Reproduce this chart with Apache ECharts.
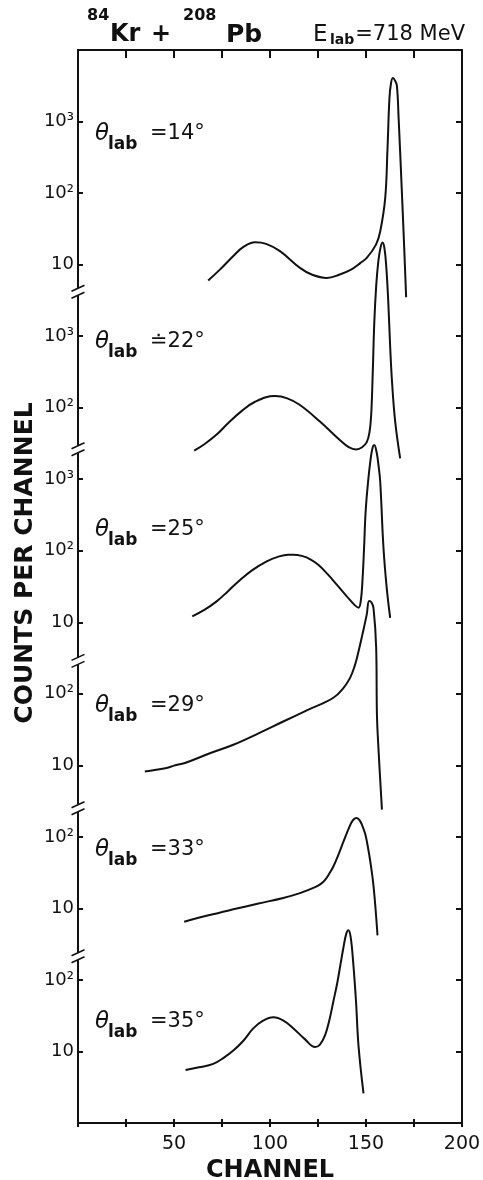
<!DOCTYPE html>
<html>
<head>
<meta charset="utf-8">
<script src="https://cdn.jsdelivr.net/npm/echarts@6/dist/echarts.min.js"></script>
<style>
html, body { margin: 0; padding: 0; background: #fff; }
#chart { width: 483px; height: 1180px; }
</style>
</head>
<body>
<div id="chart"></div>
<script>
// [channel, counts per channel]
const curve14 = [[67.8, 6.0], [73.9, 8.5], [80.9, 13.2], [86, 17.5], [92.2, 20.5], [98, 19.5], [105.2, 15.4], [115.6, 9.0], [122, 7.2], [129.6, 6.5], [136, 7.2], [142.2, 8.5], [147, 10.5], [150.4, 12.4], [155.2, 19], [157.4, 29], [160, 85], [161.2, 420], [162.2, 2080], [163, 3400], [164, 4050], [165.2, 3700], [166.1, 3170], [167, 1100], [168.6, 117], [169.9, 17], [170.9, 3.5]]
const curve22 = [[60.5, 25], [66, 31], [72.2, 42], [78, 60], [84.4, 86], [92, 120], [102.6, 145], [109, 135], [115.6, 109], [126, 64], [136.5, 35], [141, 28], [144.9, 26], [148, 28], [150.4, 33], [151.8, 45], [152.7, 79], [153.5, 300], [154.3, 1500], [155.3, 5000], [156.4, 11000], [157.5, 17000], [158.6, 20400], [159.6, 17000], [160.6, 9000], [161.6, 3000], [162.6, 700], [163.6, 220], [165.2, 64], [167.8, 19.6]]
const curve25 = [[59.5, 12.1], [66, 15], [72.2, 19.6], [78, 27], [84.4, 39], [91, 54], [98.3, 71], [104, 82], [109.5, 88], [112, 88], [117, 84], [121, 76], [125, 64], [130, 47], [135, 33], [140, 23], [144, 17.5], [146.1, 16], [147.3, 20], [148.2, 40], [149, 110], [149.8, 350], [151.1, 930], [152.5, 2000], [153.5, 2800], [154.3, 3000], [155.5, 2400], [156.5, 1580], [157.4, 930], [159.1, 110], [160.8, 30], [162.6, 11.5]]
const curve29 = [[34.8, 8.2], [40, 8.6], [46.1, 9.2], [50, 9.9], [55.7, 10.8], [68, 14.5], [80.9, 19.4], [94, 28], [106.9, 41], [120, 60], [133, 88], [138.3, 121], [141.7, 167], [144, 240], [146, 380], [148, 650], [150.4, 1290], [151.6, 1990], [152.8, 1900], [153.9, 1590], [155.3, 440], [155.7, 51], [156.5, 17], [158.3, 2.4]]
const curve33 = [[55.3, 6.5], [68, 8], [80.9, 9.7], [94, 11.7], [106.9, 14], [116, 16.5], [123.5, 19.8], [126.5, 22], [128.7, 25], [131, 31], [133, 38.5], [135.5, 55], [138.2, 85], [141.7, 145], [143.5, 175], [145.2, 183], [146.7, 170], [148, 145], [149.6, 110], [150.6, 82], [152.2, 46], [154, 19.5], [156, 4.2]]
const curve35 = [[56, 5.5], [63, 6], [70.4, 6.7], [76, 8.2], [80.9, 10.3], [86, 14], [91.3, 21], [96, 26.5], [101.7, 30], [107, 27], [112.2, 21], [118, 15], [123.5, 11.5], [126, 12.5], [128.7, 16.9], [131, 28], [133, 50], [135, 90], [136.8, 170], [138.2, 280], [139.6, 430], [140.8, 495], [142, 400], [143.4, 166], [144.8, 50], [146.1, 12], [148.7, 2.6]]

const curves = [curve14, curve22, curve25, curve29, curve33, curve35]
const angleText = ['=14°', '≐22°', '=25°', '=29°', '=33°', '=35°']
// exponent at the top edge of the frame for each stacked panel (frame spans 15 decades)
const topExp = [4, 7, 9, 11, 13, 15]
// decades that carry a label in each panel
const panelDecades = [[3, 2, 1], [3, 2], [3, 2, 1], [2, 1], [2, 1], [2, 1]]
const xLabels = [50, 100, 150, 200]
// axis breaks, in decades below the top of the frame
const breakAt = [3.38, 5.58, 8.54, 10.6, 12.67]

const FONT = 'DejaVu Sans'
const INK = '#111'
const decadeText = { 1: '10', 2: '10²', 3: '10³' }

const chart = echarts.init(document.getElementById('chart'))

const grids = curves.map(() => ({ left: 78, right: 21, top: 50, bottom: 57, containLabel: false, outerBoundsMode: 'none' }))

const xAxes = curves.map((c, i) => ({
  type: 'value',
  gridIndex: i,
  min: 0,
  max: 200,
  interval: 25,
  show: i < 3,
  position: i === 2 ? 'top' : 'bottom',
  axisLine: { show: i !== 1, lineStyle: { color: INK, width: 2 } },
  axisTick: { show: true, inside: i !== 1, length: i === 2 ? 8 : 4, lineStyle: { color: INK, width: 2 } },
  axisLabel: {
    show: i === 0,
    margin: 12,
    color: INK,
    fontFamily: FONT,
    fontSize: 19,
    formatter: v => (xLabels.includes(v) ? String(v) : '')
  },
  splitLine: { show: false },
  name: i === 0 ? 'CHANNEL' : '',
  nameLocation: 'middle',
  nameGap: 34,
  nameTextStyle: { color: INK, fontFamily: FONT, fontSize: 24, fontWeight: 'bold' }
}))

const yAxes = curves.map((c, i) => ({
  type: 'log',
  gridIndex: i,
  min: Math.pow(10, topExp[i] - 15),
  max: Math.pow(10, topExp[i]),
  interval: 1,
  splitNumber: 15,
  axisLine: { show: i === 0, lineStyle: { color: INK, width: 2 } },
  axisTick: { show: i === 0, inside: true, length: 5, lineStyle: { color: INK, width: 2 } },
  axisLabel: {
    margin: 4,
    color: INK,
    fontFamily: FONT,
    fontSize: 18,
    formatter: v => {
      const e = Math.round(Math.log10(v))
      return panelDecades[i].includes(e) ? decadeText[e] : ''
    }
  },
  splitLine: { show: false }
}))
// right-hand frame edge
yAxes.push({
  type: 'log',
  gridIndex: 0,
  position: 'right',
  min: Math.pow(10, topExp[0] - 15),
  max: Math.pow(10, topExp[0]),
  interval: 1,
  splitNumber: 15,
  axisLine: { show: true, lineStyle: { color: INK, width: 2 } },
  axisTick: { show: true, inside: true, length: 6, lineStyle: { color: INK, width: 2 } },
  axisLabel: { show: false },
  splitLine: { show: false }
})

const series = curves.map((c, i) => ({
  type: 'line',
  xAxisIndex: i,
  yAxisIndex: i,
  data: c,
  smooth: 0.4,
  showSymbol: false,
  clip: false,
  lineStyle: { color: INK, width: 2 }
}))

chart.setOption({
  animation: false,
  backgroundColor: '#fff',
  grid: grids,
  xAxis: xAxes,
  yAxis: yAxes,
  series: series
})

// text and axis-break decorations
const txt = (x, y, text, size, extra) => ({
  type: 'text',
  x: x,
  y: y,
  z: 100,
  style: Object.assign({ text: text, fill: INK, fontFamily: FONT, fontSize: size, verticalAlign: 'middle' }, extra || {})
})

const labelY = [134, 342, 530, 706, 850, 1022]
const graphics = []
labelY.forEach((y, i) => {
  graphics.push(txt(95, y, 'θ', 23, { fontStyle: 'italic' }))
  graphics.push(txt(108, y + 11, 'lab', 17, { fontWeight: 'bold' }))
  graphics.push(txt(150, y, angleText[i], 21))
})

// title line
graphics.push(txt(87, 16, '84', 16, { fontWeight: 'bold' }))
graphics.push(txt(110, 35, 'Kr', 24, { fontWeight: 'bold' }))
graphics.push(txt(151, 35, '+', 24, { fontWeight: 'bold' }))
graphics.push(txt(183, 16, '208', 16, { fontWeight: 'bold' }))
graphics.push(txt(226, 35, 'Pb', 25, { fontWeight: 'bold' }))
graphics.push(txt(313, 35, 'E', 23))
graphics.push(txt(330, 40, 'lab', 14, { fontWeight: 'bold' }))
graphics.push(txt(465, 35, '=718 MeV', 21, { align: 'right' }))

// vertical axis title
graphics.push({
  type: 'text',
  x: 25,
  y: 563,
  rotation: Math.PI / 2,
  z: 100,
  style: { text: 'COUNTS PER CHANNEL', fill: INK, fontFamily: FONT, fontSize: 25, fontWeight: 'bold', align: 'center', verticalAlign: 'middle' }
})

const x0 = chart.convertToPixel({ xAxisIndex: 0 }, 0)
breakAt.forEach(d => {
  const y = chart.convertToPixel({ yAxisIndex: 0 }, Math.pow(10, topExp[0] - d))
  graphics.push({ type: 'rect', z: 100, shape: { x: x0 - 3, y: y - 3.5, width: 6, height: 7 }, style: { fill: '#fff' } })
  ;[-3.5, 3.5].forEach(off => {
    graphics.push({
      type: 'line',
      z: 101,
      shape: { x1: x0 - 6.5, y1: y + off + 3, x2: x0 + 6.5, y2: y + off - 3 },
      style: { stroke: INK, lineWidth: 1.6 }
    })
  })
})

chart.setOption({ graphic: graphics })
</script>
</body>
</html>
